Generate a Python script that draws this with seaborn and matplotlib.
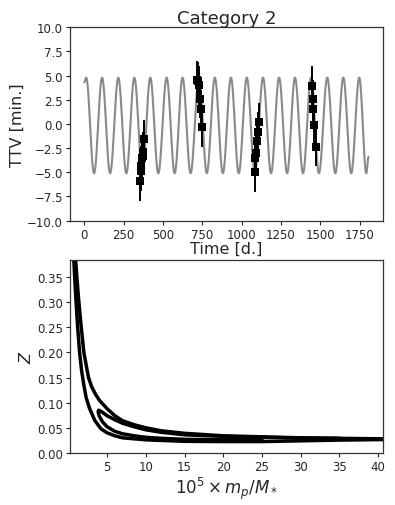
import numpy as np
import pandas as pd
import matplotlib
matplotlib.use("Agg")
import matplotlib.pyplot as plt
import seaborn as sns

# --- TTV model curve: extrema (time [d], ttv [min]) ---
model_t = [0, 13, 63, 114, 165, 217, 268, 319, 370, 420, 471, 524, 575, 625, 676,
           729, 779, 830, 881, 932, 982, 1033, 1084, 1136, 1187, 1238, 1289, 1339,
           1390, 1441, 1491, 1544, 1595, 1646, 1696, 1747, 1792, 1806]
model_v = [4.3, 4.8, -5.1, 4.8, -5.1, 4.8, -5.1, 4.8, -5.1, 4.8, -5.1, 4.8, -5.1, 4.8, -5.1,
           4.8, -5.1, 4.8, -5.1, 4.8, -5.1, 4.8, -5.1, 4.8, -5.1, 4.8, -5.1, 4.8,
           -5.1, 4.8, -5.1, 4.8, -5.1, 4.8, -5.1, 4.8, -5.1, -3.4]

# --- observed transit timing variations ---
obs_t = [356, 360, 364, 368, 372, 376, 382,
         718, 722, 728, 735, 740, 748,
         1084, 1088, 1092, 1097, 1102, 1108,
         1445, 1451, 1456, 1462, 1470]
obs_v = [-5.95, -4.3, -4.9, -3.5, -3.3, -2.85, -1.6,
         4.5, 4.4, 4.0, 2.6, 1.5, -0.35,
         -5.0, -3.5, -3.0, -1.75, -0.8, 0.2,
         3.95, 2.55, 1.55, -0.15, -2.35]
obs_err = [2.0] * len(obs_t)

# --- Z vs planet mass degeneracy curves ---
outer_m = [0.94, 1.1, 1.3, 1.6, 2.0, 2.6, 3.0, 3.5, 4.0, 5.0, 6.0, 7.0, 8.5, 10, 12, 15, 20, 25, 30, 35, 40.6]
outer_z = [0.385, 0.35, 0.31, 0.26, 0.20, 0.15, 0.132, 0.117, 0.105, 0.088, 0.074, 0.064, 0.056, 0.05, 0.044, 0.039, 0.034, 0.032, 0.030, 0.029, 0.028]
lower_m = [0.7, 0.85, 1.0, 1.2, 1.45, 1.7, 2.0, 2.3, 2.7, 3.4, 4.2, 5.0, 6.0, 7.0, 8.5, 10, 15, 20, 25, 30, 35, 40.6]
lower_z = [0.385, 0.34, 0.30, 0.25, 0.20, 0.165, 0.135, 0.11, 0.09, 0.065, 0.048, 0.040, 0.034, 0.030, 0.028, 0.026, 0.023, 0.0225, 0.0225, 0.024, 0.0255, 0.0265]
loop_m = [35, 30, 25, 20, 15, 12, 10, 8.5, 7.0, 6.0, 5.0, 4.3, 3.9, 3.85, 4.0, 4.4, 5.0, 6.0, 7.0, 8.5, 10, 12, 15, 20, 25]
loop_z = [0.029, 0.0295, 0.031, 0.033, 0.036, 0.041, 0.046, 0.052, 0.059, 0.066, 0.074, 0.082, 0.085, 0.081, 0.073, 0.062, 0.052, 0.043, 0.038, 0.034, 0.031, 0.029, 0.027, 0.026, 0.026]


def smooth_extrema(t, v, n=24):
    """Join consecutive extrema with half-cosine segments."""
    xs, ys = [], []
    for i in range(len(t) - 1):
        s = np.linspace(0, 1, n, endpoint=False)
        w = (1 - np.cos(np.pi * s)) / 2
        xs.append(t[i] + (t[i + 1] - t[i]) * s)
        ys.append(v[i] + (v[i + 1] - v[i]) * w)
    xs.append([t[-1]])
    ys.append([v[-1]])
    return np.concatenate(xs), np.concatenate(ys)


sns.set_style("ticks")
plt.rcParams["font.family"] = ["DejaVu Sans"]
plt.rcParams["mathtext.fontset"] = "dejavusans"

fig = plt.figure(figsize=(3.95, 5.06), dpi=100)
ax1 = fig.add_axes([0.177, 0.562, 0.792, 0.382])
ax2 = fig.add_axes([0.177, 0.103, 0.792, 0.381])

mx, my = smooth_extrema(model_t, model_v)
model = pd.DataFrame({"t": mx, "ttv": my})
sns.lineplot(data=model, x="t", y="ttv", ax=ax1, color="#8a8a8a", lw=1.5,
             sort=False, estimator=None)
ax1.errorbar(obs_t, obs_v, yerr=obs_err, fmt="none", ecolor="black", elinewidth=1.4)
sns.scatterplot(x=obs_t, y=obs_v, ax=ax1, marker="s", s=38, color="black",
                edgecolor="black", linewidth=0, zorder=3)
ax1.set_ylim(-10, 10)
ax1.set_yticks(np.arange(-10, 10.1, 2.5))
ax1.set_xticks(np.arange(0, 1751, 250))
ax1.set_title("Category 2", fontsize=13, pad=3)
ax1.set_xlabel("Time [d.]", fontsize=11.5, labelpad=0)
ax1.set_ylabel("TTV [min.]", fontsize=11.5, labelpad=2)

for mm, zz in [(outer_m, outer_z), (lower_m, lower_z), (loop_m, loop_z)]:
    sns.lineplot(x=mm, y=zz, ax=ax2, color="black", lw=2.5, sort=False, estimator=None)
ax2.set_xlim(0.2, 40.6)
ax2.set_ylim(0, 0.384)
ax2.set_xticks(np.arange(5, 41, 5))
ax2.set_yticks(np.arange(0, 0.351, 0.05))
ax2.set_xlabel(r"$10^5 \times m_p/M_*$", fontsize=12, labelpad=1)
ax2.set_ylabel(r"$Z$", fontsize=11.5, labelpad=2)

for ax in (ax1, ax2):
    ax.tick_params(labelsize=8.5, length=3, width=0.8, pad=2)
    for sp in ax.spines.values():
        sp.set_color("#333333")
        sp.set_linewidth(0.9)

fig.savefig("out.png", dpi=100)
